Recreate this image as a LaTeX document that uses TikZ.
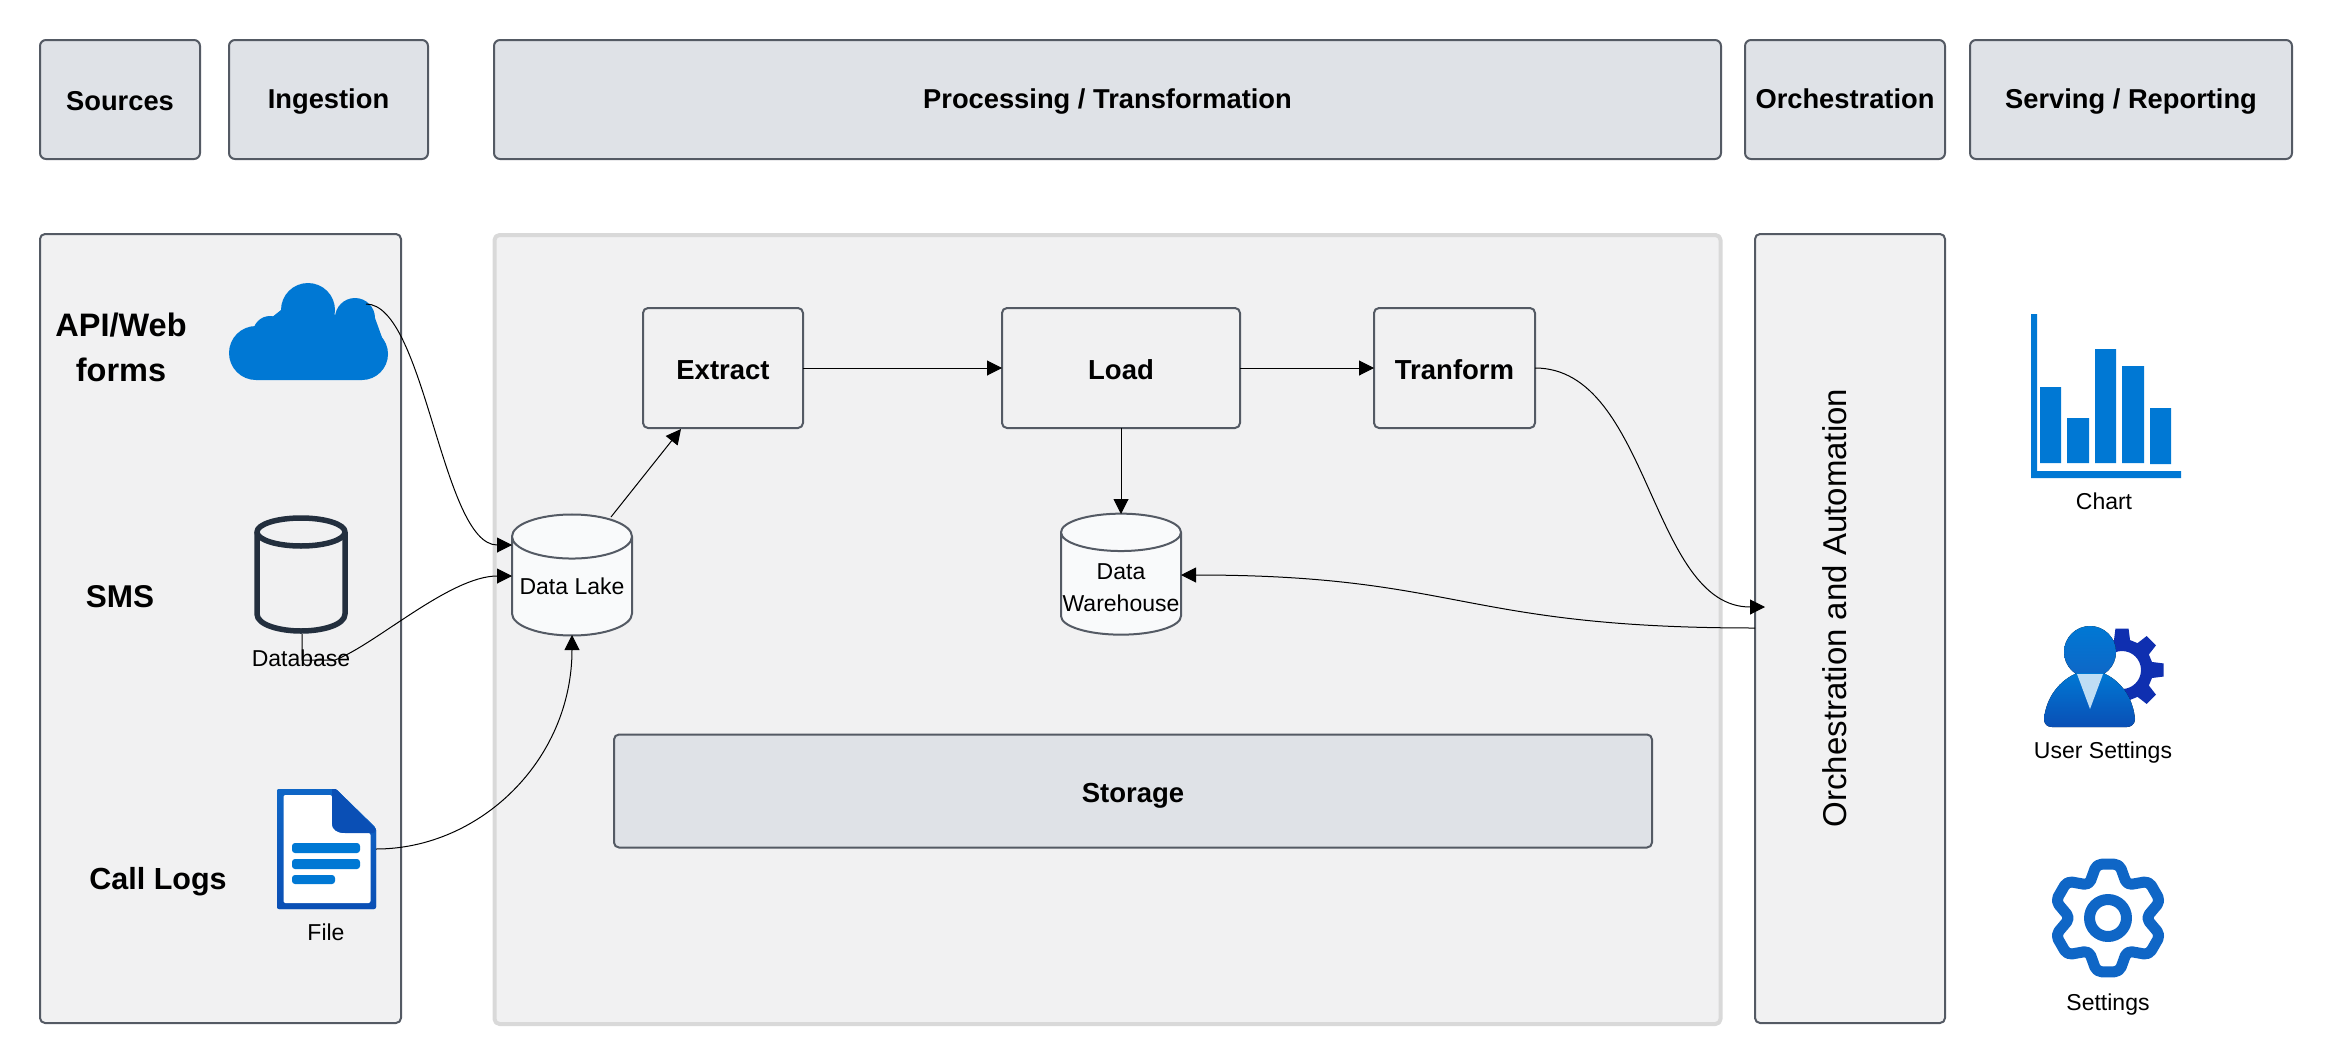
\documentclass[tikz,border=0pt]{standalone}
\usepackage{fontspec}
\setmainfont{Liberation Sans}
\usetikzlibrary{shapes.geometric, arrows.meta}
\definecolor{edgegrey}{HTML}{545A64}
\definecolor{headfill}{HTML}{DFE2E7}
\definecolor{panelfill}{HTML}{F1F1F2}
\definecolor{procedge}{HTML}{D9D9D9}
\definecolor{cylfill}{HTML}{F9FAFB}
\definecolor{iconblue}{HTML}{0078D4}
\definecolor{iconmid}{HTML}{0F66C6}
\definecolor{icondeep}{HTML}{0A4FB5}
\definecolor{cogblue}{HTML}{0F2FB0}
\definecolor{dbdark}{HTML}{232F3E}
\tikzset{
  header/.style={
    rectangle,
    rounded corners=6pt,
    minimum height=119pt,
    align=center,
    draw=edgegrey,
    line width=2pt,
    fill=headfill,
    inner sep=0pt,
    outer sep=0pt,
    text height=17pt,
    text depth=0pt,
    font=\fontsize{27.3}{32}\selectfont\bfseries
    },
  panel/.style={
    rectangle,
    rounded corners=5pt,
    draw=edgegrey,
    line width=2pt,
    fill=panelfill,
    inner sep=0pt,
    outer sep=0pt
    },
  process/.style={
    panel,
    minimum height=120pt,
    align=center,
    text height=22.6pt,
    text depth=0pt,
    font=\fontsize{27.5}{32}\selectfont\bfseries
    },
  store/.style={
    cylinder,
    shape border rotate=90,
    aspect=0.42,
    minimum width=120pt,
    minimum height=121pt,
    align=center,
    draw=edgegrey,
    line width=2pt,
    fill=cylfill,
    inner sep=0pt,
    outer sep=0pt,
    font=\fontsize{23}{32}\selectfont
    },
  source/.style={
    align=center,
    inner sep=0pt,
    font=\fontsize{30.5}{45}\selectfont\bfseries
    },
  caption/.style={
    inner sep=0pt,
    font=\fontsize{23}{28}\selectfont
    },
}
\tikzstyle{arrow} = [line width=1pt,-{Triangle[length=15pt,width=15pt]}]
\begin{document}
\begin{tikzpicture}[
            x = 1pt, y = -1pt, % one unit is one pixel of the layout
            line join = round
        ]
         \useasboundingbox (0,0) rectangle (2332,1063);

         % column headers
         \node[header, minimum width=160pt, text height=21pt] (sources) at (120,99.5) {Sources};
         \node[header, minimum width=199pt] (ingestion) at (328.5,99.5) {Ingestion};
         \node[header, minimum width=1227pt] (processing) at (1107.5,99.5) {Processing / Transformation};
         \node[header, minimum width=200pt] (orchestration) at (1845,99.5) {Orchestration};
         \node[header, minimum width=322pt] (serving) at (2131,99.5) {Serving / Reporting};

         % panels
         \node[panel, minimum width=361pt, minimum height=789pt] (sourcepanel) at (220.5,628.5) {};
         \node[panel, draw=procedge, line width=4pt, minimum width=1226pt, minimum height=789pt] (procpanel) at (1107.5,629.5) {};
         \node[panel, minimum width=190pt, minimum height=789pt] (orchpanel) at (1850,628.5) {};
         \node[rotate=90, inner sep=0pt, font=\fontsize{33}{38}\selectfont] (orchtext) at (1835,608) {Orchestration and Automation};

         % source labels
         \node[source, font=\fontsize{32.5}{45}\selectfont\bfseries] (api) at (121,347) {API/Web\\forms};
         \node[source, font=\fontsize{31.5}{45}\selectfont\bfseries] (sms) at (120,597) {SMS};
         \node[source] (logs) at (158,881.5) {Call Logs};

         % cloud icon
         \fill[iconblue] (256,380) -- (362,380) -- (388,354) -- (375,318) -- (281,310) -- (256,330) -- cycle;
         \foreach \cx/\cy/\cr in {308/310/27, 355/318/20, 362/354/26, 256/353/27, 270/333/17}
           \fill[iconblue] (\cx,\cy) circle (\cr);
         \coordinate (cloudout) at (366,304);

         % database icon
         \draw[dbdark, line width=5.5pt] (301,532) ellipse (44 and 14);
         \draw[dbdark, line width=5.5pt] (257,532) -- (257,614) .. controls (257,625) and (280,631) .. (301,631) .. controls (322,631) and (345,625) .. (345,614) -- (345,532);
         \coordinate (dbout) at (302,634);
         \node[caption] (dblabel) at (301,658.5) {Database};

         % file icon
         \fill[iconmid, top color=iconmid, bottom color=icondeep, rounded corners=2pt] (277,789) -- (336,789) -- (376,828) -- (376,909) -- (277,909) -- cycle;
         \fill[white, rounded corners=2pt] (283.5,795) -- (332,795) -- (332,823) .. controls (332,829) and (337,833) .. (345,833) -- (370.5,833) -- (370.5,903) -- (283.5,903) -- cycle;
         \fill[icondeep] (336,789) -- (376,829) -- (374,833) -- (345,833) .. controls (337,833) and (332,829) .. (332,823) -- (332,789) -- cycle;
         \fill[iconblue, rounded corners=3pt] (292,843) rectangle (360,853) (292,859) rectangle (360,869) (292,875) rectangle (335,884);
         \coordinate (fileout) at (376,849);
         \node[caption] (filelabel) at (326,932) {File};

         % pipeline
         \node[process, minimum width=160pt] (extract) at (723,368) {Extract};
         \node[process, minimum width=238pt] (load) at (1121,368) {Load};
         \node[process, minimum width=161pt] (tranform) at (1454.5,368) {Tranform};
         \node[store] (lake) at (572,586.5) {Data Lake};
         \node[store, aspect=0.32] (warehouse) at (1121,584) {\phantom{Data}\\\phantom{Warehouse}};
         \node[store, draw=none, fill=none, shape=rectangle, minimum width=0pt, minimum height=0pt] (housetext) at (1121,587.5) {Data\\Warehouse};
         \node[process, fill=headfill, minimum width=1038pt, minimum height=113pt] (storage) at (1133,791) {Storage};

         % chart icon
         \fill[iconblue] (2031,314) rectangle (2037,478) (2031,471) rectangle (2181,478)
             (2040,387) rectangle (2061,463) (2067,418) rectangle (2089,463) (2095,349) rectangle (2116,463)
             (2122,366) rectangle (2144,463) (2150,408) rectangle (2171,464);
         \node[caption] (chartlabel) at (2104,501) {Chart};

         % user settings icon
         \begin{scope}[shift={(2122,670)}]
           \fill[cogblue, even odd rule] (-9:42) \foreach \a in {0,45,...,315} {-- (\a-9:42) -- (\a+9:42) -- (\a+15:31) -- (\a+30:31)} -- cycle (0,0) circle (19);
         \end{scope}
         \fill[top color=iconblue, bottom color=iconmid] (2090,652) circle (26);
         \fill[top color=iconblue, bottom color=icondeep] (2044,719) .. controls (2046,697) and (2060,680) .. (2077,673) -- (2103,673) .. controls (2120,680) and (2133,697) .. (2135,719) .. controls (2135,724) and (2131,727) .. (2127,727) -- (2052,727) .. controls (2047,727) and (2044,724) .. (2044,719) -- cycle;
         \fill[iconblue!25] (2077,674) -- (2103,674) -- (2090,709) -- cycle;
         \node[caption] (userlabel) at (2103,753) {User Settings};

         % settings icon
         \begin{scope}[shift={(2108,918)}]
           \draw[iconmid, line width=11pt, rounded corners=5pt] (60:38) \foreach \a in {90,150,...,330} {-- (\a-12:55) -- (\a+12:55) -- (\a+30:38)} -- (378:55) -- (402:55) -- cycle;
           \draw[iconmid, line width=11pt] (0,0) circle (18.5);
         \end{scope}
         \node[caption] (setlabel) at (2108,1005) {Settings};

         % free ends of the connectors
         \coordinate (lakein) at (512,545);
         \coordinate (lakeindb) at (512,576);
         \coordinate (lakebase) at (572,635);
         \coordinate (dbelbow) at (302,660);
         \coordinate (dbrun) at (335,660);
         \coordinate (lakeout) at (611,517);
         \coordinate (extractin) at (681,429);
         \coordinate (houseside) at (1181,575);
         \coordinate (housetop) at (1121,514);
         \coordinate (orchin) at (1765,607);
         \coordinate (orchout) at (1755,628);

         % connectors
         \draw[arrow] (cloudout) .. controls (425,304) and (442,545) .. (lakein);
         \draw[arrow] (dbout) -- (dbelbow) -- (dbrun) .. controls (375,645) and (450,576) .. (lakeindb);
         \draw[arrow] (fileout) .. controls (480,849) and (572,760) .. (lakebase);
         \draw[arrow] (lakeout) -- (extractin);
         \draw[arrow] (extract) -- (load);
         \draw[arrow] (load) -- (tranform);
         \draw[arrow] (load.south) -- (housetop);
         \draw[arrow] (tranform.east) .. controls (1650,368) and (1650,607) .. (orchin);
         \draw[arrow] (orchout) .. controls (1460,628) and (1460,575) .. (houseside);
  \end{tikzpicture}
\end{document}
